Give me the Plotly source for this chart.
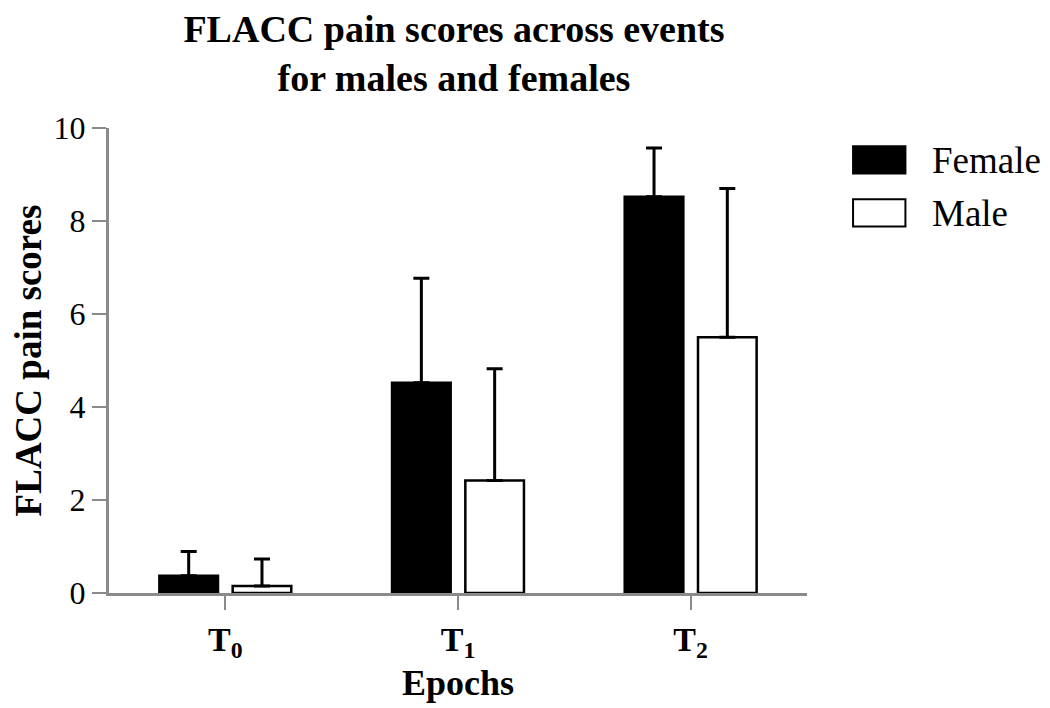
import plotly.graph_objects as go

FONT = "Liberation Serif, Times New Roman, serif"
AXIS = "#8a8a8a"

epochs = ["T<sub>0</sub>", "T<sub>1</sub>", "T<sub>2</sub>"]
series = ["Female", "Male"]
female_mean = [0.37, 4.52, 8.52]
female_err = [0.52, 2.25, 1.05]
male_mean = [0.15, 2.42, 5.50]
male_err = [0.58, 2.40, 3.20]

fills = {"Female": "black", "Male": "white"}
means = {"Female": female_mean, "Male": male_mean}
errs = {"Female": female_err, "Male": male_err}

fig = go.Figure()
for name in series:
    fig.add_trace(go.Bar(
        name=name,
        x=epochs,
        y=means[name],
        marker=dict(color=fills[name], line=dict(color="black", width=2.5)),
        error_y=dict(type="data", array=errs[name], arrayminus=[0] * len(epochs),
                     symmetric=False, color="black", thickness=3, width=8),
        showlegend=False,
    ))

# legend drawn by hand so the swatches can be large like the original
legend_top = [0.961, 0.847]
for name, y1 in zip(series, legend_top):
    fig.add_shape(type="rect", xref="paper", yref="paper",
                  x0=1.066, x1=1.141, y0=y1 - 0.059, y1=y1,
                  fillcolor=fills[name], line=dict(color="black", width=2))
    fig.add_annotation(text=name, xref="paper", yref="paper", x=1.176, y=y1 - 0.03,
                       xanchor="left", yanchor="middle", showarrow=False,
                       font=dict(size=37, color="black", family=FONT))

fig.update_layout(
    width=1042, height=700,
    paper_bgcolor="white", plot_bgcolor="white",
    font=dict(family=FONT, color="black"),
    title=dict(text="<b>FLACC pain scores across events<br>for males and females</b>",
               x=0.428, xanchor="center", y=0.952, yanchor="top",
               font=dict(size=38, family=FONT, color="black")),
    margin=dict(l=99, r=243, t=120, b=115),
    barmode="group", bargap=0.37, bargroupgap=0.2,
)
fig.update_xaxes(range=[-0.5, 2.5], showline=True, linecolor=AXIS, linewidth=3,
                 ticks="outside", ticklen=14, tickwidth=2, tickcolor=AXIS,
                 tickfont=dict(size=34, family=FONT, color="black"),
                 tickprefix="<b>", ticksuffix="</b>",
                 title=dict(text="<b>Epochs</b>", font=dict(size=36, family=FONT, color="black"), standoff=4),
                 showgrid=False, zeroline=False)
fig.update_yaxes(range=[0, 10], dtick=2, showline=True, linecolor=AXIS, linewidth=3,
                 ticks="outside", ticklen=14, tickwidth=2, tickcolor=AXIS,
                 tickfont=dict(size=32, family=FONT, color="black"),
                 title=dict(text="<b>FLACC pain scores</b>", font=dict(size=37, family=FONT, color="black"), standoff=8),
                 showgrid=False, zeroline=False)

fig.write_html("out.html")
